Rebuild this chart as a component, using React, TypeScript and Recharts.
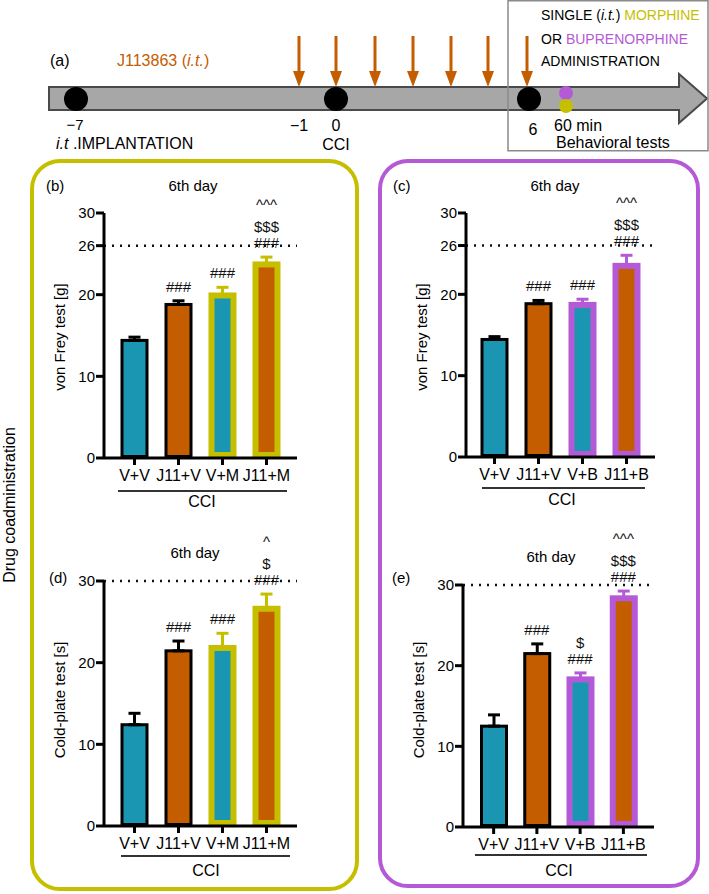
import React from "react";
import { BarChart, Bar, XAxis, YAxis, ErrorBar, ReferenceLine, ReferenceDot } from "recharts";

const TEAL = "#1a96b2";
const ORANGE = "#c45c00";
const YELLOW = "#c6bf00";
const PURPLE = "#b55ad6";

// groups
const morphineGroups = ["V+V", "J11+V", "V+M", "J11+M"];
const buprenorphineGroups = ["V+V", "J11+V", "V+B", "J11+B"];

// von Frey test [g], 6th day
const vonFreyMorphine = [14.4, 18.8, 19.9, 23.7];
const vonFreyMorphineSem = [0.4, 0.45, 1.0, 0.9];
const vonFreyBuprenorphine = [14.45, 18.85, 18.7, 23.5];
const vonFreyBuprenorphineSem = [0.35, 0.4, 0.7, 1.3];

// cold-plate test [s], 6th day
const coldPlateMorphine = [12.4, 21.45, 21.8, 26.6];
const coldPlateMorphineSem = [1.4, 1.2, 1.8, 1.8];
const coldPlateBuprenorphine = [12.5, 21.5, 18.3, 28.35];
const coldPlateBuprenorphineSem = [1.4, 1.2, 0.8, 0.9];

// significance marks, top to bottom
const vonFreyMorphineMarks = [[], ["###"], ["###"], ["^^^", "$$$", "###"]];
const vonFreyBuprenorphineMarks = [[], ["###"], ["###"], ["^^^", "$$$", "###"]];
const coldPlateMorphineMarks = [[], ["###"], ["###"], ["^", "$", "###"]];
const coldPlateBuprenorphineMarks = [[], ["###"], ["$", "###"], ["^^^", "$$$", "###"]];

const vonFreyTicks = [0, 10, 20, 26, 30];
const coldPlateTicks = [0, 10, 20, 30];

const timelineArrows = [299, 336, 375, 413, 451, 488, 527];

const FILLS = [TEAL, ORANGE, TEAL, ORANGE];

function Marks(props: any) {
  const { viewBox, lines } = props;
  const x = viewBox.x + viewBox.width / 2;
  let base = viewBox.y - 9;
  const out: any[] = [];
  for (let k = lines.length - 1; k >= 0; k--) {
    if (lines[k].startsWith("^")) base -= 6;
    out.push(
      <text key={k} x={x} y={base} textAnchor="middle" fontSize={15} fill="#111">
        {lines[k]}
      </text>
    );
    base -= 16;
  }
  return <g>{out}</g>;
}

type PanelProps = {
  left: number;
  top: number;
  right: number;
  bottom: number;
  groups: string[];
  means: number[];
  sems: number[];
  marks: string[][];
  drug: string;
  ticks: number[];
  refY: number;
  pad: number;
};

function Panel(p: PanelProps) {
  const ML = 84, MT = 70, MR = 20, MB = 40;
  const rows = p.groups.map((g, i) => ({
    group: g,
    mean: p.means[i],
    errPlain: i < 2 ? [0, p.sems[i]] : undefined,
    errDrug: i >= 2 ? [0, p.sems[i]] : undefined,
  }));
  const borders = ["#000", "#000", p.drug, p.drug];
  const widths = [3, 3, 6, 6];
  const shape = (s: any) => {
    const i = s.index;
    const sw = widths[i];
    return (
      <rect
        x={s.x + sw / 2}
        y={s.y}
        width={s.width - sw}
        height={Math.max(s.height - sw / 2, 0)}
        fill={FILLS[i]}
        stroke={borders[i]}
        strokeWidth={sw}
      />
    );
  };
  return (
    <div style={{ position: "absolute", left: p.left - ML, top: p.top - MT }}>
      <BarChart
        width={p.right - p.left + ML + MR}
        height={p.bottom - p.top + MT + MB}
        data={rows}
        margin={{ top: MT, left: ML - 40, right: MR, bottom: MB - 30 }}
      >
        <XAxis
          dataKey="group"
          height={30}
          padding={{ left: p.pad, right: p.pad }}
          stroke="#000"
          axisLine={{ stroke: "#000", strokeWidth: 3 }}
          tickLine={{ stroke: "#000", strokeWidth: 3 }}
          tickSize={7}
          tickMargin={5}
          interval={0}
          tick={{ fill: "#000", fontSize: 16 }}
        />
        <YAxis
          width={40}
          domain={[0, 30]}
          ticks={p.ticks}
          interval={0}
          stroke="#000"
          axisLine={{ stroke: "#000", strokeWidth: 3 }}
          tickLine={{ stroke: "#000", strokeWidth: 3 }}
          tickSize={8}
          tickMargin={1}
          tick={{ fill: "#000", fontSize: 15 }}
        />
        <ReferenceLine y={p.refY} stroke="#111" strokeWidth={2.5} strokeDasharray="2 6" />
        <Bar dataKey="mean" barSize={28} shape={shape} isAnimationActive={false}>
          <ErrorBar dataKey="errPlain" direction="y" width={6} stroke="#000" strokeWidth={3} />
          <ErrorBar dataKey="errDrug" direction="y" width={6} stroke={p.drug} strokeWidth={3} />
        </Bar>
        {p.groups.map((g, i) =>
          p.marks[i].length ? (
            <ReferenceDot
              key={g}
              x={g}
              y={p.means[i] + p.sems[i]}
              r={0}
              fill="none"
              stroke="none"
              label={<Marks lines={p.marks[i]} />}
            />
          ) : null
        )}
      </BarChart>
    </div>
  );
}

function Decor() {
  return (
    <svg width={709} height={894} style={{ position: "absolute", left: 0, top: 0 }}>
      {/* timeline */}
      <path
        d="M49,87 L679,87 L679,74 L707,98.5 L679,123 L679,110 L49,110 Z"
        fill="#a7a7a7"
        stroke="#4a4a4a"
        strokeWidth={2}
      />
      {[76, 336, 529].map((cx) => (
        <circle key={cx} cx={cx} cy={99} r={12} fill="#000" />
      ))}
      <circle cx={566} cy={93} r={7} fill={PURPLE} />
      <circle cx={566} cy={106} r={7} fill={YELLOW} />
      {timelineArrows.map((x) => (
        <g key={x}>
          <line x1={x} y1={36} x2={x} y2={74} stroke={ORANGE} strokeWidth={3} />
          <polygon points={`${x - 6},71 ${x + 6},71 ${x},87`} fill={ORANGE} />
        </g>
      ))}
      <text x={50} y={66} fontSize={16}>(a)</text>
      <text x={117} y={66} fontSize={16} fill={ORANGE}>
        J113863 (<tspan fontStyle="italic">i.t.</tspan>)
      </text>
      <text x={75} y={130} fontSize={15} textAnchor="middle">−7</text>
      <text x={56} y={149} fontSize={16}>
        <tspan fontStyle="italic">i.t</tspan> .IMPLANTATION
      </text>
      <text x={299} y={131} fontSize={16} textAnchor="middle">−1</text>
      <text x={336} y={131} fontSize={16} textAnchor="middle">0</text>
      <text x={336} y={150} fontSize={16} textAnchor="middle">CCI</text>
      <text x={533} y={135} fontSize={16} textAnchor="middle">6</text>
      <text x={554} y={131} fontSize={16}>60 min</text>
      <text x={556} y={148} fontSize={16}>Behavioral tests</text>
      <rect x={508} y={0.75} width={200} height={150} fill="none" stroke="#8a8a8a" strokeWidth={1.5} />
      <text x={541} y={20} fontSize={14}>
        SINGLE (<tspan fontStyle="italic">i.t.</tspan>) <tspan fill={YELLOW}>MORPHINE</tspan>
      </text>
      <text x={541} y={44} fontSize={14}>
        OR <tspan fill={PURPLE}>BUPRENORPHINE</tspan>
      </text>
      <text x={541} y={66} fontSize={14}>ADMINISTRATION</text>

      {/* group frames */}
      <rect x={32} y={161} width={325} height={728} rx={28} fill="none" stroke={YELLOW} strokeWidth={4} />
      <rect x={380} y={161} width={318} height={725} rx={28} fill="none" stroke={PURPLE} strokeWidth={4} />

      <text
        x={9}
        y={505}
        fontSize={16}
        textAnchor="middle"
        dominantBaseline="central"
        transform="rotate(-90 9 505)"
      >
        Drug coadministration
      </text>

      {/* panel titles */}
      <text x={46} y={191} fontSize={15}>(b)</text>
      <text x={193} y={191} fontSize={15} textAnchor="middle">6th day</text>
      <text x={393} y={191} fontSize={15}>(c)</text>
      <text x={555} y={191} fontSize={15} textAnchor="middle">6th day</text>
      <text x={49} y={583} fontSize={15}>(d)</text>
      <text x={195} y={558} fontSize={15} textAnchor="middle">6th day</text>
      <text x={392} y={583} fontSize={15}>(e)</text>
      <text x={551} y={562} fontSize={15} textAnchor="middle">6th day</text>

      {/* axis titles */}
      {[
        [59, 337, "von Frey test [g]"],
        [421, 337, "von Frey test [g]"],
        [59, 700, "Cold-plate test [s]"],
        [418, 700, "Cold-plate test [s]"],
      ].map(([x, y, t]) => (
        <text
          key={`${x}-${y}`}
          x={x as number}
          y={y as number}
          fontSize={15}
          textAnchor="middle"
          dominantBaseline="central"
          transform={`rotate(-90 ${x} ${y})`}
        >
          {t}
        </text>
      ))}

      {/* CCI brackets */}
      {[
        [118, 287, 491, 202, 507],
        [482, 645, 488, 562, 505],
        [121, 290, 856, 206, 876],
        [475, 647, 855, 559, 876],
      ].map(([x1, x2, y, cx, ty]) => (
        <g key={`${x1}-${y}`}>
          <line x1={x1} x2={x2} y1={y} y2={y} stroke="#333" strokeWidth={2} />
          <text x={cx} y={ty} fontSize={16} textAnchor="middle">CCI</text>
        </g>
      ))}
    </svg>
  );
}

export default function App() {
  return (
    <div
      style={{
        position: "absolute",
        left: 0,
        top: 0,
        width: 709,
        height: 894,
        background: "#fff",
        fontFamily: '"Liberation Sans", Arial, Helvetica, sans-serif',
      }}
    >
      <Decor />
      <Panel
        left={104}
        top={213}
        right={297}
        bottom={458}
        groups={morphineGroups}
        means={vonFreyMorphine}
        sems={vonFreyMorphineSem}
        marks={vonFreyMorphineMarks}
        drug={YELLOW}
        ticks={vonFreyTicks}
        refY={26}
        pad={8.5}
      />
      <Panel
        left={466}
        top={213}
        right={655}
        bottom={457}
        groups={buprenorphineGroups}
        means={vonFreyBuprenorphine}
        sems={vonFreyBuprenorphineSem}
        marks={vonFreyBuprenorphineMarks}
        drug={PURPLE}
        ticks={vonFreyTicks}
        refY={26}
        pad={6.5}
      />
      <Panel
        left={104}
        top={581}
        right={297}
        bottom={826}
        groups={morphineGroups}
        means={coldPlateMorphine}
        sems={coldPlateMorphineSem}
        marks={coldPlateMorphineMarks}
        drug={YELLOW}
        ticks={coldPlateTicks}
        refY={30}
        pad={8.5}
      />
      <Panel
        left={463}
        top={585}
        right={654}
        bottom={827}
        groups={buprenorphineGroups}
        means={coldPlateBuprenorphine}
        sems={coldPlateBuprenorphineSem}
        marks={coldPlateBuprenorphineMarks}
        drug={PURPLE}
        ticks={coldPlateTicks}
        refY={30}
        pad={9}
      />
    </div>
  );
}
